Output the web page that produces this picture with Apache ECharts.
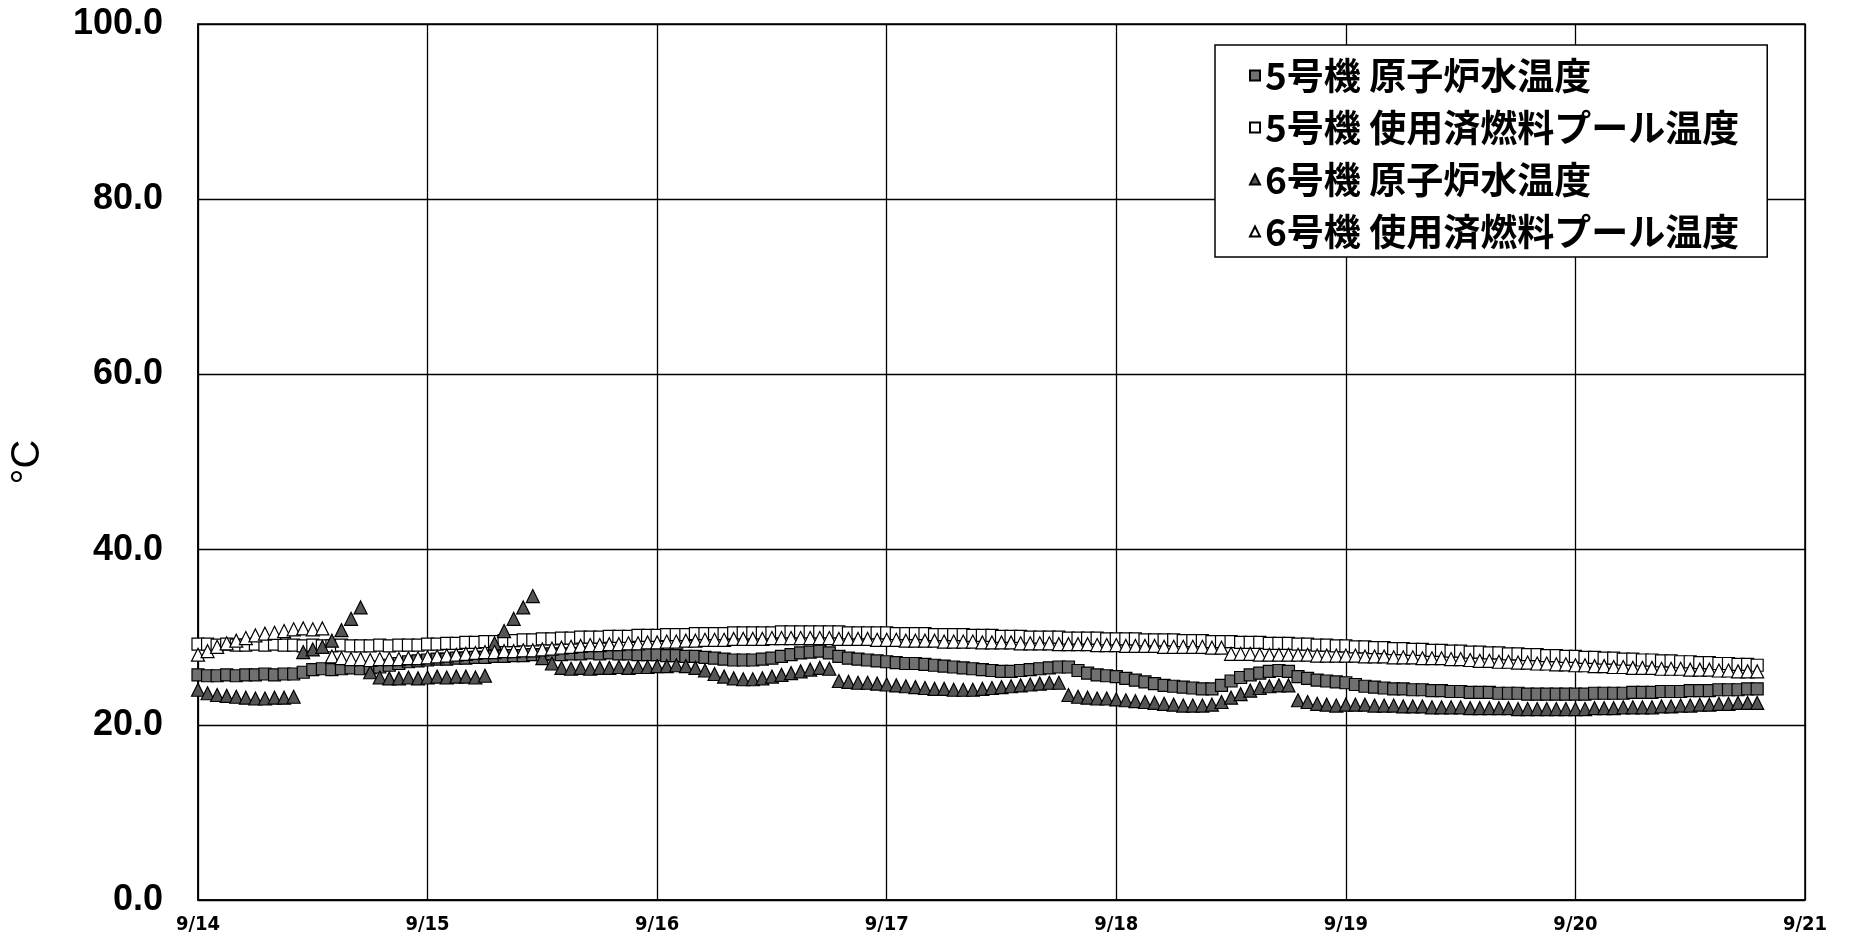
<!DOCTYPE html>
<html>
<head>
<meta charset="utf-8">
<style>
html,body{margin:0;padding:0;background:#fff;}
#chart{width:1849px;height:946px;}
</style>
<script src="https://cdn.jsdelivr.net/npm/echarts@6/dist/echarts.min.js"></script>
</head>
<body>
<div id="chart"></div>
<script>
// X tick labels (one per day, from 9/14 00:00)
const xLabels = ['9/14','9/15','9/16','9/17','9/18','9/19','9/20','9/21'];
const seriesNames = ['5号機 原子炉水温度','5号機 使用済燃料プール温度','6号機 原子炉水温度','6号機 使用済燃料プール温度'];
// Hourly readings (°C) starting 9/14 00:00
const reactor5 = [
 25.7,25.6,25.6,25.7,25.6,25.7,25.7,25.8,25.7,25.8,25.8,26.0,26.3,26.4,26.3,26.4,26.5,26.4,26.5,26.6,26.8,27.0,27.2,27.3,
 27.4,27.5,27.5,27.6,27.6,27.7,27.7,27.8,27.8,27.9,27.9,28.0,28.0,28.1,28.0,28.1,28.1,28.2,28.1,28.2,28.1,28.1,28.0,28.0,
 28.0,27.9,27.9,27.8,27.8,27.7,27.6,27.5,27.4,27.4,27.4,27.5,27.6,27.8,28.0,28.2,28.3,28.4,28.2,27.8,27.6,27.5,27.4,27.3,
 27.2,27.1,27.0,27.0,26.9,26.8,26.7,26.6,26.5,26.4,26.3,26.2,26.1,26.1,26.2,26.3,26.4,26.5,26.6,26.6,26.2,25.9,25.7,25.6,
 25.5,25.3,25.1,24.9,24.7,24.5,24.4,24.3,24.2,24.1,24.1,24.5,25.0,25.4,25.7,25.9,26.1,26.2,26.1,25.5,25.3,25.1,25.0,24.9,
 24.8,24.6,24.4,24.3,24.2,24.1,24.1,24.0,24.0,23.9,23.9,23.8,23.8,23.7,23.7,23.7,23.6,23.6,23.6,23.5,23.5,23.5,23.5,23.5,
 23.5,23.5,23.6,23.6,23.6,23.6,23.7,23.7,23.7,23.8,23.8,23.8,23.9,23.9,23.9,24.0,24.0,24.0,24.1,24.1
];
const pool5 = [
 29.2,29.2,29.1,29.2,29.1,29.1,29.2,29.1,29.2,29.1,29.1,29.0,29.1,29.0,29.0,29.1,29.0,29.0,29.0,29.1,29.0,29.1,29.1,29.1,
 29.2,29.2,29.3,29.3,29.4,29.4,29.5,29.5,29.6,29.6,29.7,29.7,29.8,29.8,29.9,29.9,30.0,30.0,30.0,30.1,30.1,30.1,30.2,30.2,
 30.2,30.3,30.3,30.3,30.4,30.4,30.4,30.4,30.5,30.5,30.5,30.5,30.5,30.6,30.6,30.6,30.6,30.6,30.6,30.6,30.5,30.5,30.5,30.5,
 30.5,30.4,30.4,30.4,30.4,30.3,30.3,30.3,30.3,30.2,30.2,30.2,30.1,30.1,30.1,30.0,30.0,30.0,30.0,29.9,29.9,29.9,29.9,29.8,
 29.8,29.8,29.8,29.7,29.7,29.7,29.7,29.6,29.6,29.6,29.5,29.5,29.5,29.4,29.4,29.4,29.3,29.3,29.3,29.2,29.2,29.1,29.1,29.0,
 29.0,28.9,28.9,28.8,28.8,28.7,28.7,28.6,28.6,28.5,28.5,28.4,28.4,28.3,28.3,28.2,28.2,28.1,28.1,28.0,28.0,27.9,27.9,27.8,
 27.8,27.7,27.7,27.6,27.6,27.5,27.5,27.4,27.4,27.3,27.3,27.2,27.2,27.1,27.1,27.0,27.0,26.9,26.9,26.8
];
const reactor6 = [
 24.0,23.6,23.4,23.3,23.2,23.1,23.0,23.0,23.1,23.1,23.2,28.3,28.6,28.9,29.6,30.8,32.1,33.4,26.0,25.4,25.3,25.3,25.4,25.3,
 25.4,25.5,25.4,25.5,25.5,25.4,25.6,29.3,30.7,32.1,33.4,34.7,27.6,27.0,26.5,26.4,26.5,26.4,26.5,26.5,26.6,26.5,26.6,26.6,
 26.7,26.7,26.8,26.7,26.5,26.2,25.8,25.5,25.3,25.2,25.2,25.3,25.5,25.7,25.9,26.1,26.3,26.5,26.4,25.0,24.9,24.8,24.8,24.7,
 24.6,24.5,24.4,24.3,24.2,24.1,24.1,24.0,24.0,24.0,24.1,24.2,24.3,24.4,24.5,24.6,24.7,24.8,24.8,23.4,23.2,23.1,23.0,23.0,
 22.9,22.8,22.7,22.6,22.5,22.4,22.3,22.2,22.2,22.2,22.3,22.6,23.1,23.5,23.9,24.2,24.4,24.5,24.5,22.8,22.6,22.4,22.3,22.2,
 22.3,22.3,22.3,22.2,22.2,22.2,22.1,22.1,22.1,22.0,22.0,22.0,22.0,21.9,21.9,21.9,21.9,21.9,21.8,21.8,21.8,21.8,21.8,21.8,
 21.8,21.8,21.9,21.9,21.9,22.0,22.0,22.0,22.0,22.1,22.1,22.2,22.2,22.3,22.3,22.4,22.4,22.5,22.5,22.5
];
const pool6 = [
 28.0,28.4,28.9,29.3,29.6,29.9,30.2,30.4,30.5,30.7,30.9,31.0,30.9,31.0,27.8,27.6,27.5,27.5,27.4,27.5,27.5,27.5,27.6,27.6,
 27.7,27.8,27.9,28.0,28.1,28.2,28.3,28.3,28.4,28.4,28.5,28.5,28.6,28.7,28.8,28.9,29.0,29.1,29.1,29.2,29.2,29.3,29.3,29.4,
 29.4,29.5,29.5,29.6,29.6,29.7,29.7,29.7,29.8,29.8,29.8,29.8,29.9,29.9,29.9,29.9,29.9,29.9,29.9,29.8,29.8,29.8,29.8,29.7,
 29.7,29.7,29.6,29.6,29.6,29.6,29.5,29.5,29.5,29.5,29.4,29.4,29.4,29.4,29.3,29.3,29.3,29.3,29.2,29.2,29.2,29.2,29.1,29.1,
 29.1,29.0,29.0,29.0,29.0,28.9,28.9,28.9,28.9,28.9,28.8,28.8,28.1,28.1,28.1,28.0,28.0,28.0,28.0,28.0,28.0,27.9,27.9,27.9,
 27.9,27.9,27.8,27.8,27.8,27.7,27.7,27.7,27.6,27.6,27.6,27.5,27.5,27.4,27.3,27.3,27.2,27.2,27.1,27.1,27.0,27.0,26.9,26.9,
 26.8,26.8,26.7,26.7,26.6,26.6,26.5,26.5,26.5,26.4,26.4,26.4,26.3,26.3,26.3,26.2,26.2,26.1,26.1,26.1
];

function toPairs(arr){ return arr.map((v,i)=>[i/24, v]); }

const chart = echarts.init(document.getElementById('chart'), null, {renderer:'canvas'});
const mk = (name, data, symbol, fill, size) => ({
  name, type:'scatter', data: toPairs(data), symbol, symbolSize: size,
  itemStyle:{color: fill, borderColor:'#000', borderWidth:1.2, opacity:1},
  emphasis:{disabled:true}, silent:true
});
chart.setOption({
  animation:false,
  backgroundColor:'#fff',
  grid:{left:195, right:44, top:24, bottom:46, show:true, borderColor:'#000', borderWidth:1.5, backgroundColor:'transparent'},
  legend:{
    orient:'vertical', left:1215, top:45,
    backgroundColor:'#fff', borderColor:'#000', borderWidth:1.5,
    padding:[12,28,7,34], itemGap:15, itemWidth:10, itemHeight:10, itemTextGap:10,
    textStyle:{fontFamily:'"Noto Sans CJK JP"', fontSize:37, fontWeight:'bold', color:'#000'},
    data: seriesNames
  },
  xAxis:{
    type:'value', min:0, max:7, interval:1,
    axisLine:{show:true, lineStyle:{color:'#000', width:1.5}},
    axisTick:{show:false},
    splitLine:{show:true, lineStyle:{color:'#000', width:1.3}},
    axisLabel:{formatter:(v)=>xLabels[Math.round(v)], fontFamily:'"DejaVu Sans Condensed","DejaVu Sans"', fontWeight:'bold', fontSize:20, color:'#000', margin:15}
  },
  yAxis:{
    type:'value', min:0, max:100, interval:20,
    name:'°C', nameLocation:'middle', nameRotate:90, nameGap:150,
    nameTextStyle:{fontFamily:'"Liberation Sans"', fontSize:40, color:'#000'},
    axisLine:{show:true, lineStyle:{color:'#000', width:1.5}},
    axisTick:{show:false},
    splitLine:{show:true, lineStyle:{color:'#000', width:1.3}},
    axisLabel:{formatter:(v)=>v.toFixed(1), fontFamily:'"Liberation Sans"', fontWeight:'bold', fontSize:36, color:'#000', margin:35}
  },
  series:[
    mk(seriesNames[0], reactor5, 'rect', '#707070', 12),
    mk(seriesNames[1], pool5, 'rect', '#ffffff', 12),
    mk(seriesNames[2], reactor6, 'triangle', '#555555', 13),
    mk(seriesNames[3], pool6, 'triangle', '#ffffff', 13)
  ]
});
</script>
</body>
</html>
